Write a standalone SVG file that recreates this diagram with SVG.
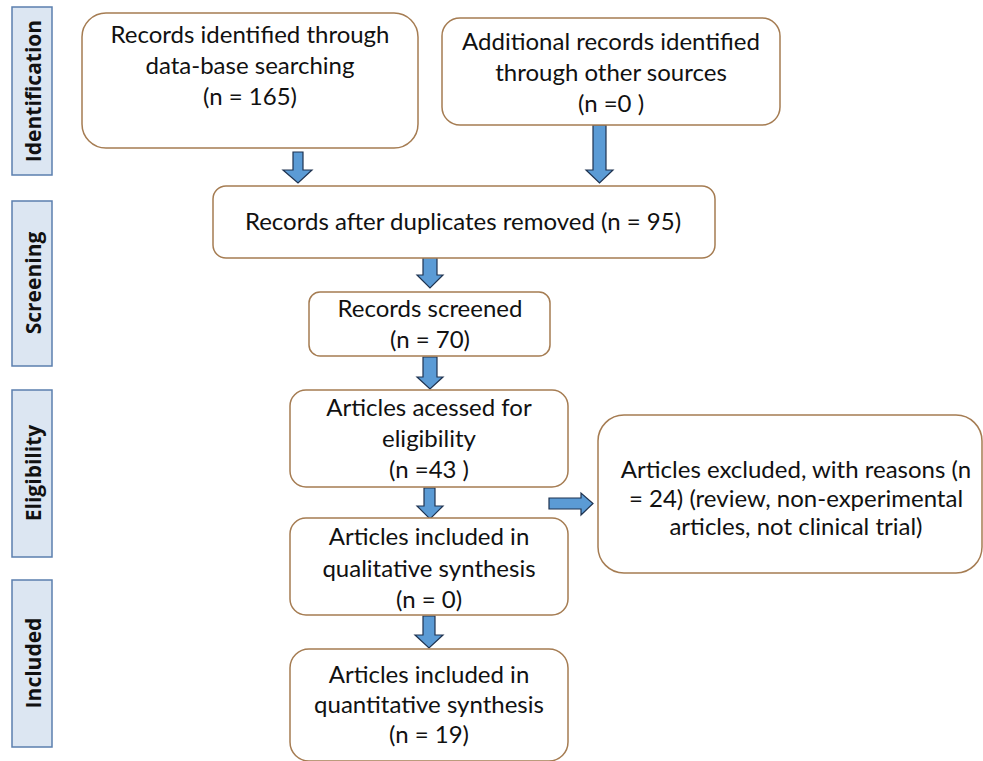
<svg xmlns="http://www.w3.org/2000/svg" width="983" height="761" viewBox="0 0 983 761">
<style>
.box{fill:#ffffff;stroke:#a57c52;stroke-width:1.5}
.stage{fill:#dce6f2;stroke:#5b7fae;stroke-width:1.5}
.t{font-family:Lato,"Liberation Sans",sans-serif;font-size:24px;fill:#111;text-anchor:middle}
.s{font-family:"Open Sans","Liberation Sans",sans-serif;font-weight:bold;font-size:21px;fill:#111;text-anchor:middle;dominant-baseline:central}
.arr{fill:#5b9bd5;stroke:#1f3350;stroke-width:1.2}
</style>
<rect width="983" height="761" fill="#ffffff"/>
<g id="stages">
<g id="stage-identification"><rect class="stage" x="12" y="7" width="40" height="168"/><text class="s" transform="translate(33,91) rotate(-90)">Identification</text></g>
<g id="stage-screening"><rect class="stage" x="12" y="201" width="40" height="165"/><text class="s" transform="translate(33,283) rotate(-90)">Screening</text></g>
<g id="stage-eligibility"><rect class="stage" x="12" y="390" width="40" height="167"/><text class="s" transform="translate(33,473) rotate(-90)">Eligibility</text></g>
<g id="stage-included"><rect class="stage" x="12" y="580" width="40" height="167"/><text class="s" transform="translate(33,663) rotate(-90)">Included</text></g>
</g>
<g id="connectors">
<path class="arr" d="M293,152 H303 V170 H312 L298,183 L283,170 H293 Z"/>
<path class="arr" d="M593,125 H606 V170 H613 L599.5,183 L586,170 H593 Z"/>
<path class="arr" d="M423,257 H437 V275 H443 L430,288 L417,275 H423 Z"/>
<path class="arr" d="M423,357 H437 V377 H443 L430,389 L417,377 H423 Z"/>
<path class="arr" d="M424,488 H435 V506 H443 L430,519 L417,506 H424 Z"/>
<path class="arr" d="M423,616 H435 V635 H443 L429,648 L415,635 H423 Z"/>
<path class="arr" d="M549,498 H581 V493 L593,503.5 L581,515 V509 H549 Z"/>
</g>
<g id="n1"><rect class="box" x="82" y="13" width="336" height="135" rx="24"/>
<text class="t" x="250" y="43">Records identified through</text>
<text class="t" x="250" y="74">data-base searching</text>
<text class="t" x="250" y="105">(n = 165)</text></g>
<g id="n2"><rect class="box" x="442" y="18" width="338" height="107" rx="18"/>
<text class="t" x="611" y="50">Additional records identified</text>
<text class="t" x="611" y="81">through other sources</text>
<text class="t" x="611" y="112">(n =0 )</text></g>
<g id="n3"><rect class="box" x="213" y="186" width="502" height="72" rx="13"/>
<text class="t" x="463" y="230">Records after duplicates removed (n = 95)</text></g>
<g id="n4"><rect class="box" x="309" y="292" width="241" height="64" rx="11"/>
<text class="t" x="430" y="317">Records screened</text>
<text class="t" x="430" y="348">(n = 70)</text></g>
<g id="n5"><rect class="box" x="290" y="390" width="278" height="97" rx="16"/>
<text class="t" x="429" y="416">Articles acessed for</text>
<text class="t" x="429" y="447">eligibility</text>
<text class="t" x="429" y="478">(n =43 )</text></g>
<g id="n6"><rect class="box" x="290" y="518" width="278" height="97" rx="16"/>
<text class="t" x="429" y="545">Articles included in</text>
<text class="t" x="429" y="577">qualitative synthesis</text>
<text class="t" x="429" y="608">(n = 0)</text></g>
<g id="n7"><rect class="box" x="598" y="415" width="384" height="158" rx="26"/>
<text class="t" x="796" y="478">Articles excluded, with reasons (n</text>
<text class="t" x="796" y="507">= 24) (review, non-experimental</text>
<text class="t" x="796" y="535">articles, not clinical trial)</text></g>
<g id="n8"><rect class="box" x="290" y="649" width="278" height="112" rx="19"/>
<text class="t" x="429" y="683">Articles included in</text>
<text class="t" x="429" y="713">quantitative synthesis</text>
<text class="t" x="429" y="743">(n = 19)</text></g>
</svg>
